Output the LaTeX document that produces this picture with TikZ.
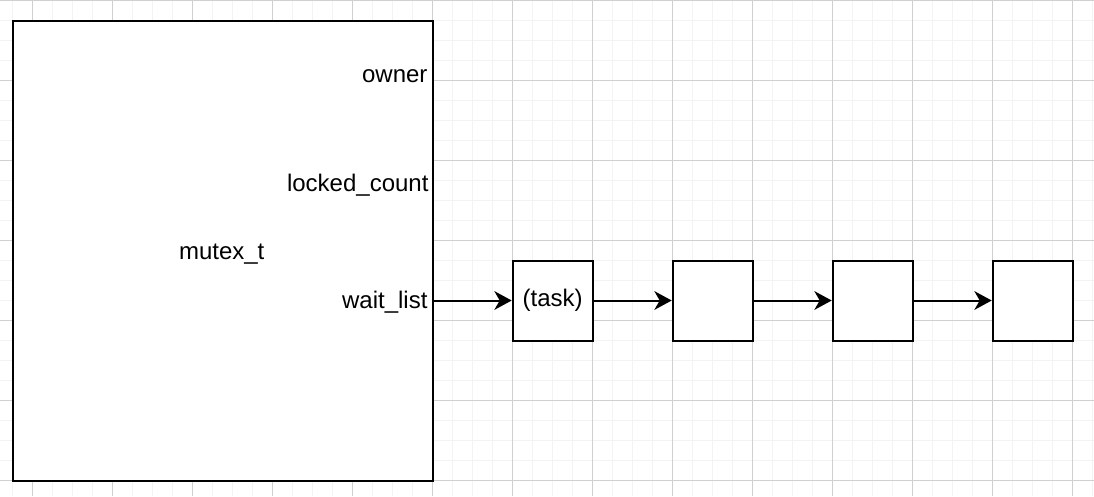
\documentclass[tikz,border=0pt]{standalone}
\usepackage{fontspec}
\setmainfont{Liberation Sans}
\usetikzlibrary{arrows.meta}

\tikzset{every picture/.style={line width=0.75pt}}
\tikzset{
	txt/.style={font=\fontsize{18}{21.6}\selectfont},
	listbox/.style={draw, fill=white, line width=1.5pt, minimum width=60pt, minimum height=60pt, inner sep=0pt, txt},
	field/.style={anchor=base east, inner sep=0pt, txt},
	link/.style={line width=1.5pt, -{Stealth[length=13pt,width=14pt,inset=4pt]}},
	minorgrid/.style={draw={rgb, 255:red, 243; green, 243; blue, 243}, line width=1.1pt},
	majorgrid/.style={draw={rgb, 255:red, 208; green, 208; blue, 208}, line width=0.75pt},
}

\begin{document}
\begin{tikzpicture}[x=0.75pt,y=0.75pt,yscale=-1,xscale=1]
		\useasboundingbox (0,0) rectangle (1094,496);
		\clip (0,0) rectangle (1094,496);

		%Grid
		\foreach \x in {12.7,32.7,...,1093} \draw [minorgrid] (\x,0) -- (\x,496);
		\foreach \y in {0.5,20.5,...,496} \draw [minorgrid] (0,\y) -- (1094,\y);
		\foreach \x in {32.7,112.7,...,1093} \draw [majorgrid] (\x,0) -- (\x,496);
		\foreach \y in {0.5,80.5,...,496} \draw [majorgrid] (0,\y) -- (1094,\y);

		%Shape: Rectangle
		\node [draw, fill=white, line width=1.5pt, minimum width=315pt, minimum height=345pt, inner sep=0pt] (mutex) at (222.7,250.5) {};

		% Text Node
		\node [anchor=base, inner sep=0pt, txt] (name) at (221.7,259) {mutex\_t};
		% Text Node
		\node [field] (owner) at (428,82) {owner};
		% Text Node
		\node [field] (count) at (429,191) {locked\_count};
		% Text Node
		\node [field] (waitlist) at (428,308) {wait\_list};

		%Shape: Square
		\node [listbox] (task1) at (552.7,300.5) {(task)};
		\node [listbox] (task2) at (712.7,300.5) {};
		\node [listbox] (task3) at (872.7,300.5) {};
		\node [listbox] (task4) at (1032.7,300.5) {};

		%Straight Lines
		\draw [link] (mutex.east |- task1.west) -- (task1.west);
		\draw [link] (task1) -- (task2);
		\draw [link] (task2) -- (task3);
		\draw [link] (task3) -- (task4);

\end{tikzpicture}
\end{document}
